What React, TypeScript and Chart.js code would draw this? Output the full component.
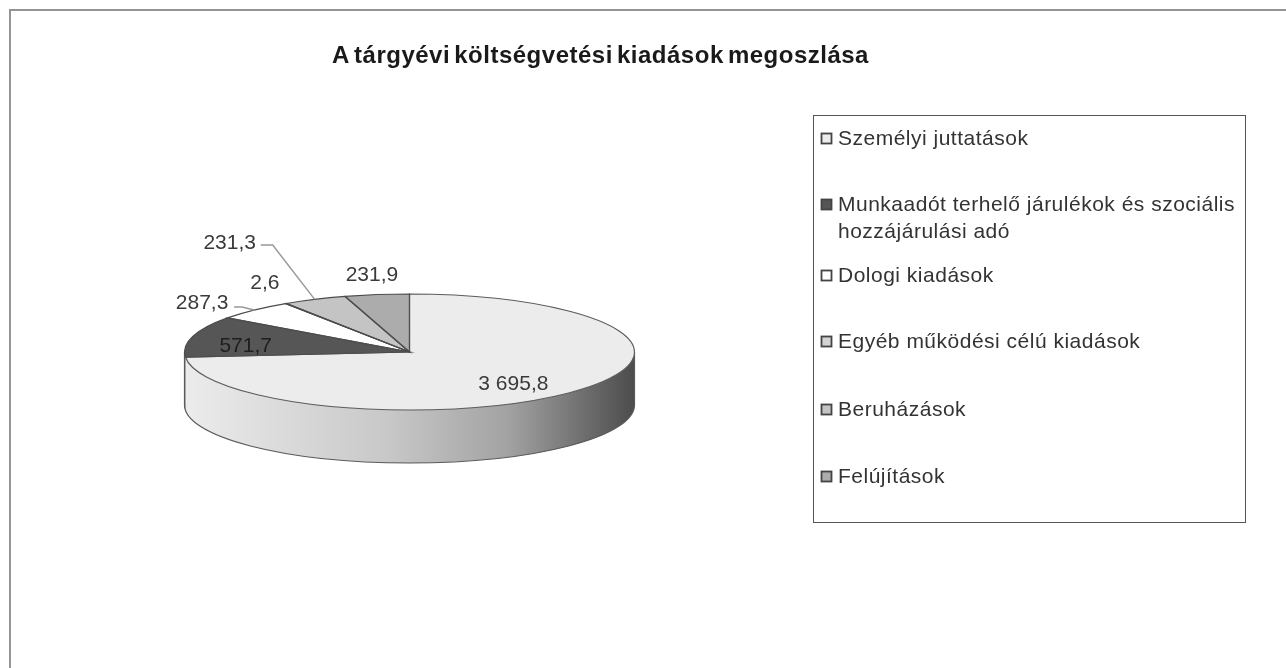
import React, { useEffect, useRef } from "react";
import { Chart, registerables } from "chart.js";

Chart.register(...registerables);

const titleText = "A tárgyévi költségvetési kiadások megoszlása";
const categories = [
  "Személyi juttatások",
  "Munkaadót terhelő járulékok és szociális hozzájárulási adó",
  "Dologi kiadások",
  "Egyéb működési célú kiadások",
  "Beruházások",
  "Felújítások",
];
const legendLines = [
  ["Személyi juttatások"],
  ["Munkaadót terhelő járulékok és szociális", "hozzájárulási adó"],
  ["Dologi kiadások"],
  ["Egyéb működési célú kiadások"],
  ["Beruházások"],
  ["Felújítások"],
];
const values = [3695.8, 571.7, 287.3, 2.6, 231.3, 231.9];
const valueLabels = ["3 695,8", "571,7", "287,3", "2,6", "231,3", "231,9"];
const sliceColors = ["#ececec", "#565656", "#ffffff", "#d4d4d4", "#c4c4c4", "#acacac"];

// layout only
const SQUASH = 58 / 225;
const DEPTH = 53;
const FONT = '"Liberation Sans", Arial, sans-serif';
const labelOffsets = [
  [-62, -7],
  [53, 10],
  [-52, -7],
  [-21, -20],
  [-85, -56],
  [-5, -19],
];
const leaders: Record<number, number[][]> = {
  2: [[-12, -3], [-20, -3]],
  4: [[-42, -54.4], [-54, -54.4]],
};
const legendBox = { x: 813.5, y: 115.5, w: 432, h: 407 };
const legendRowY = [139, 205, 276, 342, 410, 477];
const legendLineGap = 27;

function midPoint(a: any) {
  const m = (a.startAngle + a.endAngle) / 2;
  return {
    x: a.x + a.outerRadius * Math.cos(m),
    y: a.y + a.outerRadius * SQUASH * Math.sin(m),
  };
}

const pie3d = {
  id: "pie3d",
  beforeDatasetsDraw(chart: any) {
    const { ctx } = chart;
    const arcs = chart.getDatasetMeta(0).data;
    const { x, y, outerRadius: r } = arcs[0];
    const ry = r * SQUASH;
    const grad = ctx.createLinearGradient(x - r, 0, x + r, 0);
    grad.addColorStop(0, "#ececec");
    grad.addColorStop(0.45, "#c8c8c8");
    grad.addColorStop(0.72, "#a2a2a2");
    grad.addColorStop(1, "#4c4c4c");
    ctx.save();
    arcs.forEach((a: any, i: number) => {
      const TAU = Math.PI * 2;
      for (const shift of [0, TAU, -TAU]) {
        const s = Math.max(a.startAngle + shift, 0);
        const e = Math.min(a.endAngle + shift, Math.PI);
        if (e <= s) continue;
        ctx.beginPath();
        ctx.ellipse(x, y, r, ry, 0, s, e);
        ctx.ellipse(x, y + DEPTH, r, ry, 0, e, s, true);
        ctx.closePath();
        ctx.fillStyle = i === 0 ? grad : "#3c3c3c";
        ctx.fill();
      }
    });
    ctx.beginPath();
    ctx.ellipse(x, y + DEPTH, r, ry, 0, 0, Math.PI);
    ctx.moveTo(x - r, y);
    ctx.lineTo(x - r, y + DEPTH);
    ctx.moveTo(x + r, y);
    ctx.lineTo(x + r, y + DEPTH);
    ctx.strokeStyle = "#5a5a5a";
    ctx.lineWidth = 1.2;
    ctx.stroke();
    ctx.restore();
  },
  beforeDatasetDraw(chart: any) {
    const { ctx } = chart;
    const { x, y } = chart.getDatasetMeta(0).data[0];
    ctx.save();
    ctx.translate(x, y);
    ctx.scale(1, SQUASH);
    ctx.translate(-x, -y);
  },
  afterDatasetDraw(chart: any) {
    chart.ctx.restore();
  },
  afterDatasetsDraw(chart: any) {
    const { ctx } = chart;
    const arcs = chart.getDatasetMeta(0).data;
    ctx.save();
    arcs.forEach((a: any, i: number) => {
      ctx.beginPath();
      ctx.moveTo(a.x, a.y);
      ctx.ellipse(a.x, a.y, a.outerRadius, a.outerRadius * SQUASH, 0, a.startAngle, a.endAngle);
      ctx.closePath();
      ctx.strokeStyle = i === 0 ? "#5c5c5c" : "#4c4c4c";
      ctx.lineWidth = 1.2;
      ctx.stroke();
    });
    ctx.strokeStyle = "#999999";
    ctx.lineWidth = 1.5;
    Object.keys(leaders).forEach((k) => {
      const i = Number(k);
      const p = midPoint(arcs[i]);
      ctx.beginPath();
      ctx.moveTo(p.x, p.y);
      leaders[i].forEach(([dx, dy]) => ctx.lineTo(p.x + dx, p.y + dy));
      ctx.stroke();
    });
    ctx.textAlign = "center";
    ctx.textBaseline = "middle";
    ctx.font = `21px ${FONT}`;
    arcs.forEach((a: any, i: number) => {
      const p = midPoint(a);
      ctx.fillStyle = i === 1 ? "#1e1e1e" : "#3a3a3a";
      ctx.fillText(valueLabels[i], p.x + labelOffsets[i][0], p.y + labelOffsets[i][1]);
    });
    ctx.restore();
  },
  afterDraw(chart: any) {
    const { ctx, width } = chart;
    ctx.save();
    // frame
    ctx.strokeStyle = "#949494";
    ctx.lineWidth = 2;
    ctx.beginPath();
    ctx.moveTo(width, 10);
    ctx.lineTo(10, 10);
    ctx.lineTo(10, chart.height);
    ctx.stroke();
    // title
    ctx.fillStyle = "#1a1a1a";
    ctx.font = `bold 24px ${FONT}`;
    ctx.letterSpacing = "0.5px";
    ctx.wordSpacing = "-3px";
    ctx.textAlign = "center";
    ctx.textBaseline = "middle";
    ctx.fillText(titleText, 600.5, 56);
    ctx.wordSpacing = "0px";
    // legend
    ctx.strokeStyle = "#555555";
    ctx.lineWidth = 1;
    ctx.strokeRect(legendBox.x, legendBox.y, legendBox.w, legendBox.h);
    ctx.font = `21px ${FONT}`;
    ctx.letterSpacing = "0.5px";
    ctx.textAlign = "left";
    legendLines.forEach((lines, i) => {
      const cy = legendRowY[i];
      ctx.fillStyle = sliceColors[i];
      ctx.fillRect(821.5, cy - 5.5, 10, 10);
      ctx.strokeStyle = "#444444";
      ctx.lineWidth = 1.8;
      ctx.strokeRect(821.5, cy - 5.5, 10, 10);
      ctx.fillStyle = "#333333";
      lines.forEach((t, j) => ctx.fillText(t, 838, cy + j * legendLineGap));
    });
    ctx.restore();
  },
};

export default function App() {
  const ref = useRef<HTMLCanvasElement>(null);
  useEffect(() => {
    document.body.style.margin = "0";
    const chart = new Chart(ref.current!, {
      type: "pie",
      data: {
        labels: categories,
        datasets: [
          { data: values, backgroundColor: sliceColors, borderWidth: 0, hoverOffset: 0 },
        ],
      },
      options: {
        animation: false,
        responsive: false,
        layout: { padding: { left: 184.5, right: 651.5, top: 127, bottom: 91 } },
        plugins: { legend: { display: false }, title: { display: false }, tooltip: { enabled: false } },
      },
      plugins: [pie3d],
    });
    return () => chart.destroy();
  }, []);
  return (
    <div style={{ width: 1286, height: 668, background: "#fff" }}>
      <canvas ref={ref} width={1286} height={668} style={{ display: "block", filter: "blur(0.4px)" }} />
    </div>
  );
}
